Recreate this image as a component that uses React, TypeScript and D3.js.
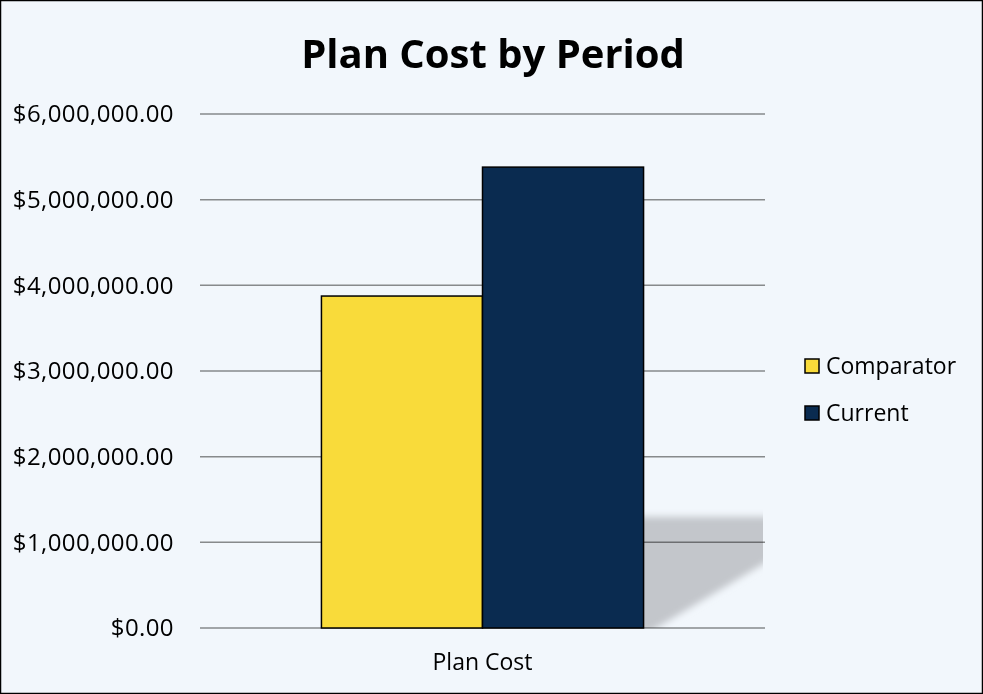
import React from "react";
import * as d3 from "d3";

const categories = ["Plan Cost"];
const seriesNames = ["Comparator", "Current"];
const comparatorValues = [3875000];
const currentValues = [5380000];
const yTicks = [0, 1000000, 2000000, 3000000, 4000000, 5000000, 6000000];
const colors = ["#F9DB3A", "#0A2B50"];

const W = 983;
const H = 694;
const plot = { left: 200, right: 765, top: 114, bottom: 628 };
const FONT = "'Open Sans', sans-serif";

export default function App() {
  const y = d3.scaleLinear().domain([0, 6000000]).range([plot.bottom, plot.top]);
  const x = d3.scaleBand().domain(categories).range([plot.left, plot.right]).paddingInner(0).paddingOuter(0.377);
  const xs = d3.scaleBand().domain(seriesNames).range([0, x.bandwidth()]);
  const fmt = d3.format("$,.2f");
  const seriesVals = [comparatorValues, currentValues];

  const barRight = (x(categories[0]) ?? 0) + x.bandwidth();
  const shadowTop = y(1300000);

  return (
    <svg width={W} height={H} style={{ position: "absolute", left: 0, top: 0 }} fontFamily={FONT}>
      <defs>
        <filter id="blur" x="-20%" y="-20%" width="140%" height="140%">
          <feGaussianBlur stdDeviation="3.5" />
        </filter>
        <clipPath id="plotClip">
          <rect x={barRight} y={plot.top} width={plot.right - barRight - 2} height={plot.bottom - plot.top} />
        </clipPath>
      </defs>
      <rect x={0.5} y={0.5} width={W - 1} height={H - 1} fill="#F2F7FC" stroke="#000" strokeWidth={1.5} />
      <text x={493} y={68} textAnchor="middle" fontSize={40} fontWeight="bold" fill="#000">
        Plan Cost by Period
      </text>

      <g clipPath="url(#plotClip)">
        <polygon
          points={`${barRight - 10},${shadowTop} ${plot.right + 20},${shadowTop} ${plot.right + 20},${y(900000)} ${barRight + 6},${plot.bottom + 4} ${barRight - 10},${plot.bottom + 4}`}
          fill="#C3C6CB"
          filter="url(#blur)"
        />
      </g>

      {yTicks.map((t) => (
        <g key={t}>
          <line
            x1={plot.left}
            x2={plot.right}
            y1={y(t)}
            y2={y(t)}
            stroke="#8E8E8E"
            strokeWidth={1.5}
            style={{ mixBlendMode: "multiply" }}
          />
          <text x={174} y={y(t)} dy="0.35em" textAnchor="end" fontSize={24} letterSpacing={0.4} fill="#000">
            {fmt(t)}
          </text>
        </g>
      ))}

      {categories.map((c, ci) => (
        <g key={c}>
          {seriesNames.map((s, si) => {
            const v = seriesVals[si][ci];
            const bx = (x(c) ?? 0) + (xs(s) ?? 0);
            return (
              <rect
                key={s}
                x={bx}
                y={y(v)}
                width={xs.bandwidth()}
                height={y(0) - y(v)}
                fill={colors[si]}
                stroke="#000"
                strokeWidth={1.5}
              />
            );
          })}
          <text x={(x(c) ?? 0) + x.bandwidth() / 2} y={662} dy="0.35em" textAnchor="middle" fontSize={23} fill="#000">
            {c}
          </text>
        </g>
      ))}

      {seriesNames.map((s, i) => (
        <g key={s} transform={`translate(805, ${366 + i * 47})`}>
          <rect x={0} y={-7} width={14} height={14} fill={colors[i]} stroke="#000" strokeWidth={1.5} />
          <text x={21} y={0} dy="0.35em" fontSize={23} fill="#000">
            {s}
          </text>
        </g>
      ))}
    </svg>
  );
}
